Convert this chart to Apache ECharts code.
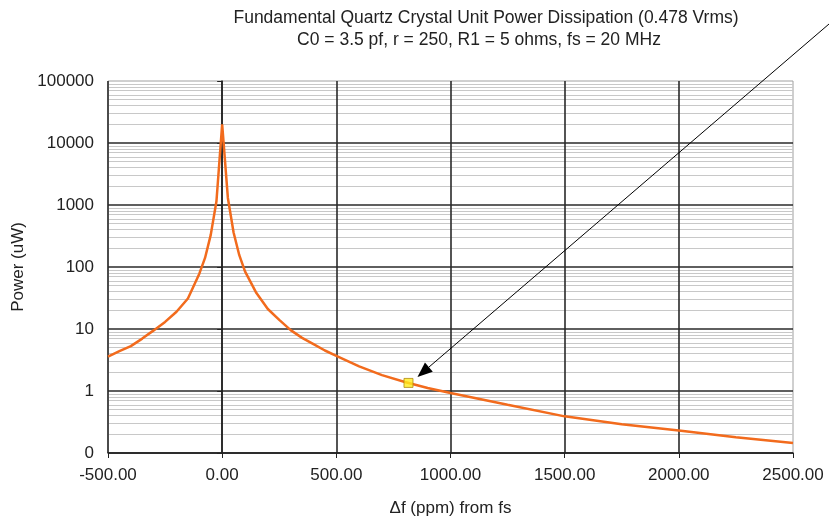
<!DOCTYPE html>
<html>
<head>
<meta charset="utf-8">
<script src="https://cdn.jsdelivr.net/npm/echarts@6/dist/echarts.min.js"></script>
<style>
  html, body { margin: 0; padding: 0; background: #fff; }
  #box { width: 829px; height: 518px; }
</style>
</head>
<body>
<div id="box"></div>
<script>
// offset from fs (ppm) and dissipated power (uW)
const freqPpm = [-500, -450, -400, -350, -300, -250, -200, -150, -100, -75, -50, -25, 0,
  25, 50, 75, 100, 150, 200, 250, 300, 350, 400, 450, 500,
  600, 700, 800, 900, 1000, 1250, 1500, 1750, 2000, 2250, 2500];
const powerUw = [3.6, 4.4, 5.3, 7, 9.5, 13, 19, 31, 78, 140, 330, 1150, 20000,
  1300, 360, 155, 85, 38, 21, 14, 9.6, 7.2, 5.7, 4.5, 3.7,
  2.5, 1.8, 1.4, 1.12, 0.93, 0.6, 0.39, 0.29, 0.23, 0.18, 0.145];
// highlighted operating point
const markerPoint = [816, 1.35];
// decades of the log axis, for the minor grid lines
const decades = [0.1, 1, 10, 100, 1000, 10000];
const titleLines = [
  'Fundamental Quartz Crystal Unit Power Dissipation (0.478 Vrms)',
  'C0 = 3.5 pf, r = 250, R1 = 5 ohms, fs = 20 MHz'
];

const font = 'Liberation Sans, Arial, sans-serif';
const minorLines = [];
decades.forEach(d => {
  for (let m = 2; m <= 9; m++) minorLines.push({yAxis: +(m * d).toPrecision(3)});
});

let myecharts = echarts.init(document.getElementById('box'));
let option = {
  animation: false,
  grid: {
    left: 108, right: 36, top: 81, bottom: 65,
    outerBoundsMode: 'none',
    containLabel: false,
    show: true, borderColor: '#a0a0a0', borderWidth: 1
  },
  xAxis: {
    type: 'value',
    z: 3,
    min: -500, max: 2500, interval: 500,
    name: 'Δf (ppm) from fs',
    nameLocation: 'middle',
    nameGap: 47,
    nameTextStyle: {fontFamily: font, fontSize: 17, color: '#222'},
    axisLine: {lineStyle: {color: '#222', width: 1.5}},
    axisTick: {show: true, length: 5, lineStyle: {color: '#222'}},
    axisLabel: {
      fontFamily: font, fontSize: 17, color: '#222', margin: 14,
      formatter: v => v.toFixed(2)
    },
    splitLine: {show: true, showMaxLine: false, lineStyle: {color: '#2a2a2a', width: 1.6}}
  },
  yAxis: {
    type: 'log',
    z: 3,
    logBase: 10,
    min: 0.1, max: 100000, interval: 1,
    name: 'Power (uW)',
    nameLocation: 'middle',
    nameGap: 68,
    nameRotate: 90,
    nameTextStyle: {fontFamily: font, fontSize: 17, color: '#222'},
    axisLine: {show: true, lineStyle: {color: '#222', width: 1.5}},
    axisTick: {show: true, length: 5, lineStyle: {color: '#222'}},
    axisLabel: {
      fontFamily: font, fontSize: 17, color: '#222', margin: 14,
      formatter: v => (v < 1 ? '0' : String(Math.round(v)))
    },
    splitLine: {show: true, showMaxLine: false, lineStyle: {color: '#2a2a2a', width: 1.6}}
  },
  series: [
    {
      // minor log grid lines
      type: 'line',
      data: [],
      silent: true,
      z: 1,
      markLine: {
        z: 1,
        silent: true,
        symbol: 'none',
        label: {show: false},
        lineStyle: {color: '#c8c8c8', width: 1, type: 'solid'},
        data: minorLines
      }
    },
    {
      type: 'line',
      data: freqPpm.map((f, i) => [f, powerUw[i]]),
      showSymbol: false,
      smooth: false,
      z: 10,
      lineStyle: {color: '#f26b1d', width: 2.5}
    },
    {
      type: 'scatter',
      data: [markerPoint],
      symbol: 'rect',
      symbolSize: 9,
      z: 11,
      itemStyle: {color: '#ffec1a', borderColor: '#b08a10', borderWidth: 1}
    }
  ]
};
myecharts.setOption(option);

// title and arrow pointing at the marker
const tip = myecharts.convertToPixel({gridIndex: 0}, markerPoint);
const tx = tip[0] + 9, ty = tip[1] - 6;
const sx = 829, sy = 24;
const ang = Math.atan2(ty - sy, tx - sx);
const ah = 15, aw = 6;
const bx = tx - ah * Math.cos(ang), by = ty - ah * Math.sin(ang);
const px = -Math.sin(ang) * aw, py = Math.cos(ang) * aw;
myecharts.setOption({
  graphic: [
    {type: 'text', x: 486, y: 18, style: {text: titleLines[0], font: '17.5px ' + font, fill: '#222', textAlign: 'center', textVerticalAlign: 'middle'}},
    {type: 'text', x: 479, y: 40, style: {text: titleLines[1], font: '17.5px ' + font, fill: '#222', textAlign: 'center', textVerticalAlign: 'middle'}},
    {type: 'line', shape: {x1: sx, y1: sy, x2: bx, y2: by}, style: {stroke: '#000', lineWidth: 1}, z: 20},
    {type: 'polygon', shape: {points: [[tx, ty], [bx + px, by + py], [bx - px, by - py]]}, style: {fill: '#000'}, z: 20}
  ]
});

window.onresize = function () {
  myecharts.resize();
};
</script>
</body>
</html>
